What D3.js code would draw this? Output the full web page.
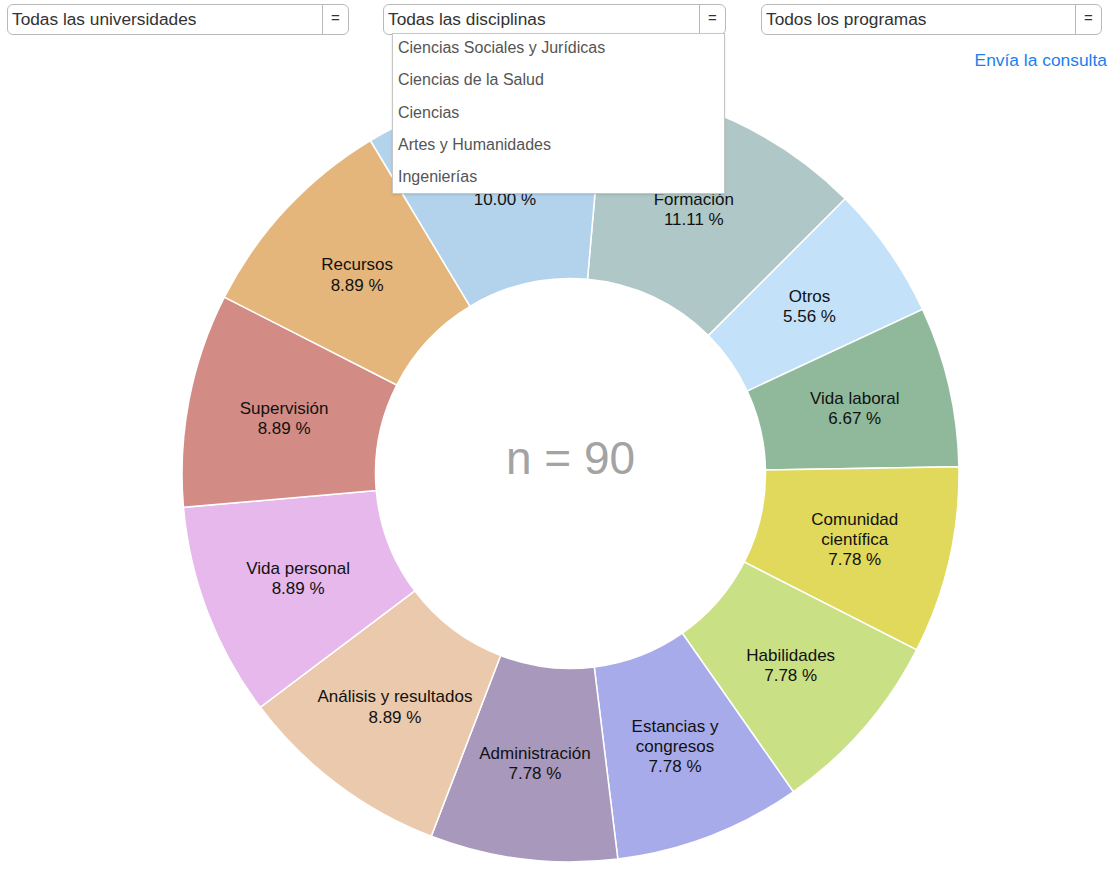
<!DOCTYPE html>
<html lang="es">
<head>
<meta charset="utf-8">
<title>Dificultades</title>
<script src="https://cdn.jsdelivr.net/npm/d3@7/dist/d3.min.js"></script>
<style>
  html, body { margin: 0; padding: 0; background: #fff; }
  body { width: 1113px; height: 887px; position: relative; overflow: hidden;
         font-family: "Liberation Sans", Arial, Helvetica, sans-serif; }
  svg { position: absolute; left: 0; top: 0; }
  .sel { position: absolute; top: 4px; height: 29px; box-sizing: border-box;
         border: 1.5px solid #b9b9b9; border-radius: 6px; background: #fff; }
  .sel .txt { position: absolute; left: 4px; top: 4px; font-size: 17.3px; color: #333; white-space: nowrap; }
  .sel .btn { position: absolute; right: 0; top: 0; bottom: 0; width: 25px;
              border-left: 1.5px solid #b9b9b9; text-align: center; font-size: 15px; color: #333; line-height: 26px; }
  .list { position: absolute; left: 392px; top: 33px; width: 333px; height: 161px; box-sizing: border-box;
          background: #fff; border: 1.5px solid #c6c6c6; box-shadow: 0 1px 2px rgba(0,0,0,0.12); }
  .list div { position: absolute; left: 5px; font-size: 16px; color: #555; white-space: nowrap; }
  .link { position: absolute; right: 6px; top: 50px; font-size: 17.4px; color: #1a7ff0; }
</style>
</head>
<body>
<script>
// Respuestas por categoría (número de personas), en orden de las agujas del reloj
const categories = [
  "Formación", "Otros", "Vida laboral", "Comunidad\ncientífica", "Habilidades",
  "Estancias y\ncongresos", "Administración", "Análisis y resultados",
  "Vida personal", "Supervisión", "Recursos", "Motivación"
];
const counts = [10, 5, 6, 7, 7, 7, 7, 8, 8, 8, 8, 9];
const colors = [
  "#afc8c7", "#c3e1f8", "#8fb99a", "#e0d95b", "#c9e084", "#a8abea",
  "#a898bc", "#eac9ad", "#e6b8ec", "#d38b86", "#e4b67b", "#b3d3ec"
];

// Filtros
const selectLabels = ["Todas las universidades", "Todas las disciplinas", "Todos los programas"];
const disciplineOptions = ["Ciencias Sociales y Jurídicas", "Ciencias de la Salud", "Ciencias", "Artes y Humanidades", "Ingenierías"];

const W = 1113, H = 887;
const cx = 570.5, cy = 473.5, rOuter = 388.5, rInner = 195;
const total = d3.sum(counts);

const svg = d3.select("body").append("svg").attr("width", W).attr("height", H);
const g = svg.append("g").attr("transform", `translate(${cx},${cy})`);

const data = categories.map((c, i) => ({ name: c, value: counts[i], color: colors[i] }));

const pie = d3.pie().sort(null).value(d => d.value)
  .startAngle(5 * Math.PI / 180).endAngle(5 * Math.PI / 180 + 2 * Math.PI);
const arc = d3.arc().innerRadius(rInner).outerRadius(rOuter);
const arcs = pie(data);

g.selectAll("path.slice").data(arcs).join("path")
  .attr("class", "slice")
  .attr("d", arc)
  .attr("fill", d => d.data.color)
  .attr("stroke", "#fff")
  .attr("stroke-width", 1.5);

const labels = g.selectAll("text.lbl").data(arcs).join("text")
  .attr("class", "lbl")
  .attr("text-anchor", "middle")
  .attr("font-size", 17)
  .attr("fill", "#111")
  .attr("transform", d => { const [x, y] = arc.centroid(d); return `translate(${x},${y})`; });

labels.each(function(d) {
  const lines = d.data.name.split("\n");
  lines.push((d.data.value / total * 100).toFixed(2) + " %");
  const n = lines.length;
  d3.select(this).selectAll("tspan").data(lines).join("tspan")
    .attr("x", 0)
    .attr("y", (l, i) => (i - (n - 1) / 2) * 20.3 + 6)
    .text(l => l);
});

g.append("text")
  .attr("text-anchor", "middle")
  .attr("y", 0)
  .attr("font-size", 46)
  .attr("fill", "#a3a3a3")
  .text(`n = ${total}`);

// Controles de filtro
const selPos = [{ left: 7, width: 342 }, { left: 383, width: 343 }, { left: 761, width: 341 }];
selectLabels.forEach((s, i) => {
  const box = d3.select("body").append("div").attr("class", "sel")
    .style("left", selPos[i].left + "px").style("width", selPos[i].width + "px").style("height", "31px");
  box.append("div").attr("class", "txt").text(s);
  box.append("div").attr("class", "btn").text("=");
});

const list = d3.select("body").append("div").attr("class", "list");
list.selectAll("div").data(disciplineOptions).join("div")
  .style("top", (d, i) => (5 + i * 32.3) + "px")
  .text(d => d);

d3.select("body").append("div").attr("class", "link").text("Envía la consulta");
</script>
</body>
</html>
